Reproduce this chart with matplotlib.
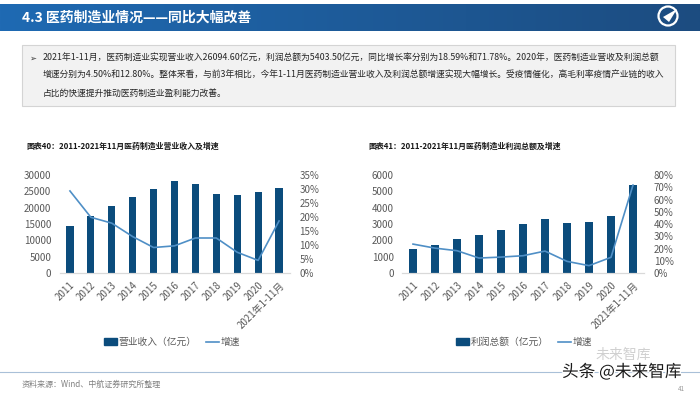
import numpy as np
import matplotlib
matplotlib.use("Agg")
import matplotlib.pyplot as plt
from matplotlib.patches import Rectangle, Patch, Circle, Polygon
from matplotlib.lines import Line2D
import matplotlib.patheffects as pe

plt.rcParams['font.family'] = ['Noto Sans CJK SC', 'DejaVu Sans']

# data
years = ["2011", "2012", "2013", "2014", "2015", "2016", "2017", "2018", "2019", "2020", "2021年1-11月"]
revenue = [14522, 17337, 20484, 23350, 25729, 28062, 27116, 24265, 23908, 24857, 26094.6]
revenue_growth = [29.3, 19.9, 17.8, 13.0, 9.1, 9.7, 12.5, 12.5, 7.4, 4.5, 18.59]
profit = [1490, 1710, 2075, 2300, 2625, 2990, 3295, 3070, 3115, 3498, 5403.5]
profit_growth = [23.6, 20.3, 18.2, 12.2, 13.0, 14.1, 17.9, 9.5, 6.0, 12.8, 71.78]

BAR = "#0b4c7c"
LINE = "#4f8fc6"
TICK = "#595959"

W, H = 700, 394
fig = plt.figure(figsize=(7, 3.94), dpi=100)

def fx(px):
    return px / W

def fy(py):
    return 1 - py / H

# header band with gradient
hdr = fig.add_axes([0, fy(31), 1, 27 / H])
c1 = np.array(matplotlib.colors.to_rgb("#1f6ab3"))
c2 = np.array(matplotlib.colors.to_rgb("#1c4c80"))
t = np.linspace(0, 1, 256)
grad = c1[None, :] * (1 - t[:, None]) + c2[None, :] * t[:, None]
hdr.imshow(grad[None, :, :], aspect="auto", extent=[0, 1, 0, 1])
hdr.axis("off")
fig.text(fx(22), fy(18), "4.3 医药制造业情况——同比大幅改善", color="white",
         fontsize=10, fontweight="bold", va="center", ha="left")

# logo
logo = fig.add_axes([fx(656), fy(28), 24 / W, 24 / H])
logo.set_xlim(-1.2, 1.2)
logo.set_ylim(-1.2, 1.2)
logo.set_aspect("equal")
logo.axis("off")
logo.add_patch(Circle((0, 0), 0.95, fill=False, ec="white", lw=1.6))
logo.add_patch(Polygon([[-0.5, -0.1], [0.9, 0.7], [0.1, -0.6]], closed=True, fc="white", ec="none"))

# summary text box
fig.patches.append(Rectangle((fx(22), fy(106)), fx(675) - fx(22), (106 - 45) / H,
                             transform=fig.transFigure, fc="#f2f2f2", ec="#d4d4d4", lw=0.8))
lines = [
    "2021年1-11月，医药制造业实现营业收入26094.60亿元，利润总额为5403.50亿元，同比增长率分别为18.59%和71.78%。2020年，医药制造业营收及利润总额",
    "增速分别为4.50%和12.80%。整体来看，与前3年相比，今年1-11月医药制造业营业收入及利润总额增速实现大幅增长。受疫情催化，高毛利率疫情产业链的收入",
    "占比的快速提升推动医药制造业盈利能力改善。",
]
fig.text(fx(29), fy(58), "➢", fontsize=6, color="#333333", va="center", family=["DejaVu Sans"])
for i, s in enumerate(lines):
    fig.text(fx(43), fy(58 + 17.5 * i), s, fontsize=6.35, color="#262626", va="center", ha="left")


def draw_chart(left_px, right_px, title_x, title, bars, growth, ymax, ystep, gmax, gstep, bar_label, leg_x):
    ax = fig.add_axes([fx(left_px), fy(273), (right_px - left_px) / W, (273 - 175) / H])
    x = np.arange(len(years))
    ax.bar(x, bars, width=0.34, color=BAR, zorder=2)
    ax.set_xlim(-0.5, len(years) - 0.5)
    ax.set_ylim(0, ymax)
    ax.set_yticks(np.arange(0, ymax + 1, ystep))
    ax.set_xticks(x)
    ax.set_xticklabels(years, rotation=45, ha="right", rotation_mode="anchor")
    ax2 = ax.twinx()
    ax2.plot(x, growth, color=LINE, lw=1.2, zorder=3)
    ax2.set_ylim(0, gmax)
    gt = np.arange(0, gmax + 0.1, gstep)
    ax2.set_yticks(gt)
    ax2.set_yticklabels([f"{int(v)}%" for v in gt])
    for a in (ax, ax2):
        for s in ("top", "left", "right"):
            a.spines[s].set_visible(False)
        a.spines["bottom"].set_color("#d9d9d9")
        a.tick_params(length=0, labelsize=7, colors=TICK)
    ax.tick_params(axis="y", pad=6)
    ax.tick_params(axis="x", pad=5)
    ax2.tick_params(axis="y", pad=7)
    fig.text(fx(title_x), fy(146), title, fontsize=5.7, fontweight="bold", color="#1a1a1a", va="center")
    handles = [Patch(color=BAR), Line2D([0], [0], color=LINE, lw=1.2)]
    fig.legend(handles, [bar_label, "增速"], loc="center", bbox_to_anchor=(fx(leg_x), fy(342)),
               ncol=2, frameon=False, fontsize=7, handlelength=1.3, handleheight=0.6,
               columnspacing=1.0, handletextpad=0.15, labelcolor=TICK)


draw_chart(59.5, 289.5, 26, "图表40：2011-2021年11月医药制造业营业收入及增速",
           revenue, revenue_growth, 30000, 5000, 35, 5, "营业收入（亿元）", 172)
draw_chart(402, 644, 368, "图表41：2011-2021年11月医药制造业利润总额及增速",
           profit, profit_growth, 6000, 1000, 80, 10, "利润总额（亿元）", 524)

# footer
fig.add_artist(Line2D([0, 1], [fy(372), fy(372)], transform=fig.transFigure, color="#a9c0d8", lw=0.8))
fig.text(fx(22), fy(384), "资料来源：Wind、中航证券研究所整理", fontsize=5.8, color="#808080", va="center")
fig.text(fx(596), fy(355), "未来智库", fontsize=10, color="#d0d0d0", va="center")
wm = fig.text(fx(562), fy(372), "头条 @未来智库", fontsize=12, color="#1a1a1a", va="center")
wm.set_path_effects([pe.withStroke(linewidth=2, foreground="white")])
fig.text(fx(678), fy(389), "41", fontsize=4.5, color="#999999", va="center")

fig.savefig("out.png", dpi=100)
